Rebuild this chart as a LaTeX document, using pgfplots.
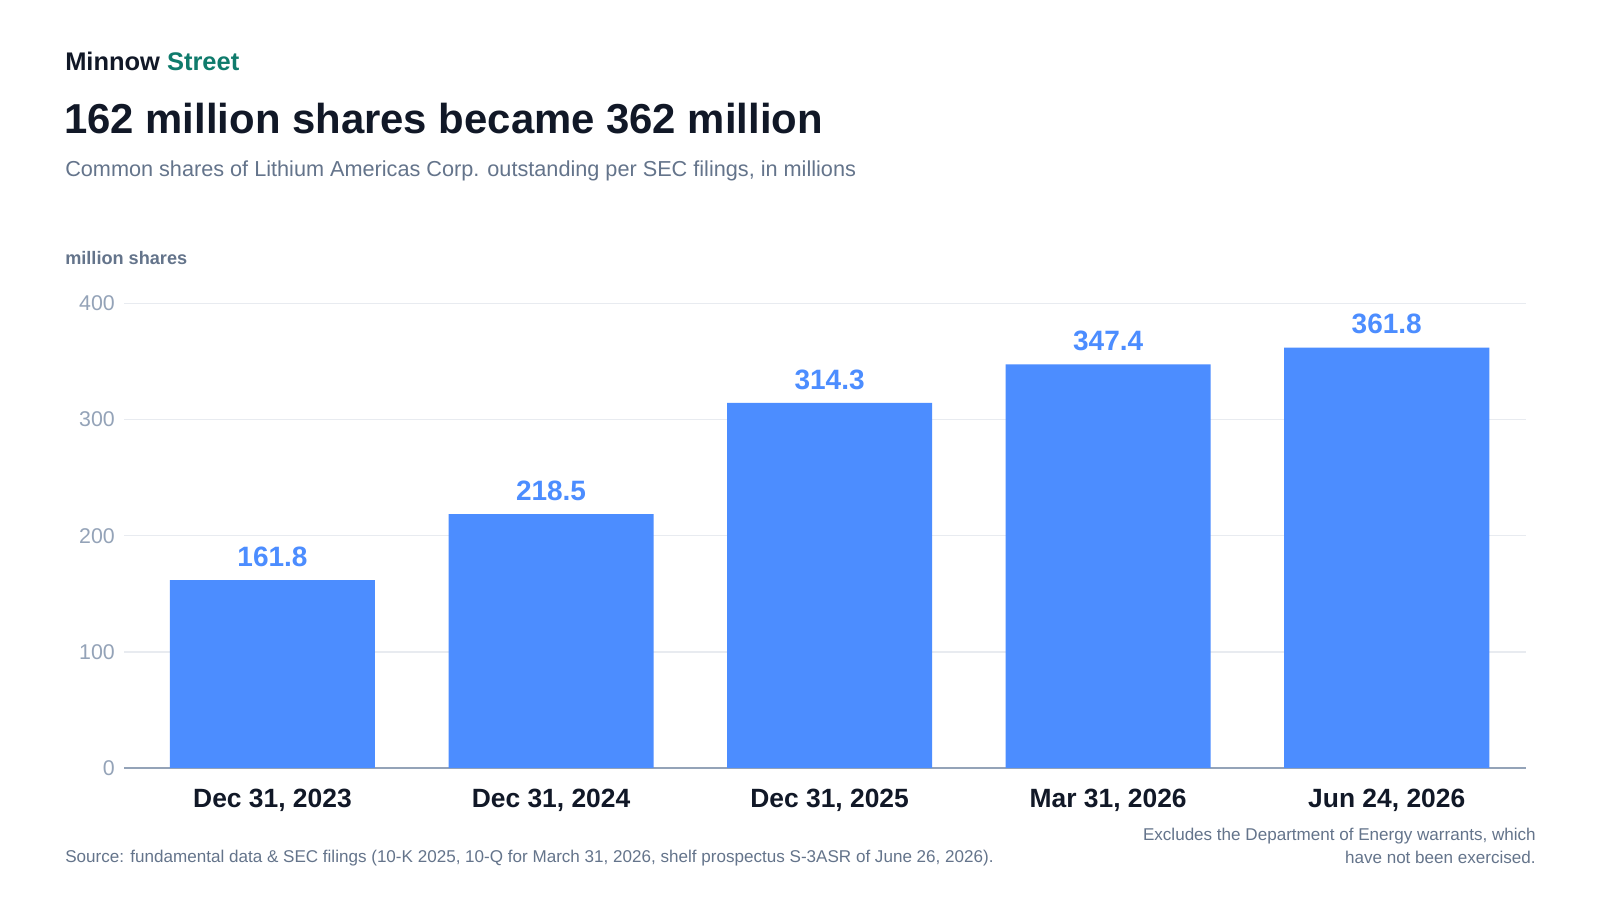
\documentclass[border=0pt]{standalone}
\usepackage{pgfplots}
\pgfplotsset{compat=1.18}
\usepackage{fontspec}
\setmainfont{Liberation Sans}
\definecolor{ink}{HTML}{111827}
\definecolor{brandgreen}{HTML}{0F7B6C}
\definecolor{subgray}{HTML}{64748B}
\definecolor{tickgray}{HTML}{94A3B8}
\definecolor{gridgray}{HTML}{E8EBF0}
\definecolor{axisgray}{HTML}{94A3B8}
\definecolor{barblue}{HTML}{4C8DFF}
\begin{document}
\begin{tikzpicture}[x=0.75pt,y=0.75pt]
\path[use as bounding box, fill=white] (0,0) rectangle (1600,900);
\node[anchor=base west, inner sep=0pt, text=ink, font=\fontsize{19.1}{21}\selectfont\bfseries] at (65,829.3) {Minnow \textcolor{brandgreen}{Street}};
\node[anchor=base west, inner sep=0pt, text=ink, font=\fontsize{31.4}{36}\selectfont\bfseries] at (64,766.7) {162 million shares became 362 million};
\node[anchor=base west, inner sep=0pt, text=subgray, font=\fontsize{16.25}{18}\selectfont] at (65,723.3) {Common shares of Lithium Americas Corp. outstanding per SEC filings, in millions};
\node[anchor=base west, inner sep=0pt, text=subgray, font=\fontsize{13.6}{15}\selectfont\bfseries] at (65,635.7) {million shares};
\begin{axis}[
  at={(93pt,99pt)}, anchor=south west, scale only axis,
  width=1051.5pt, height=348.5pt,
  ybar, bar width=0.736, bar shift=0pt,
  xmin=-0.533, xmax=4.5, ymin=0, ymax=400,
  enlargelimits=false, clip=false,
  xtick={0,1,2,3,4},
  xticklabels={{Dec 31, 2023},{Dec 31, 2024},{Dec 31, 2025},{Mar 31, 2026},{Jun 24, 2026}},
  ytick={0,100,200,300,400},
  axis x line*=bottom, axis y line*=left,
  y axis line style={draw=none},
  x axis line style={-, draw=axisgray, line width=1.1pt},
  ymajorgrids, grid style={gridgray, line width=1.1pt},
  major tick length=0pt, tick style={draw=none},
  /pgf/number format/assume math mode=true,
  yticklabel style={font=\fontsize{16}{18}\selectfont, text=tickgray, anchor=east, inner sep=0pt, xshift=-6.75pt},
  xticklabel style={font=\fontsize{19.8}{22}\selectfont\bfseries, text=ink, anchor=base, inner sep=0pt, yshift=-29.8pt},
  point meta=y,
  nodes near coords={\pgfmathprintnumber[fixed,fixed zerofill,precision=1]{\pgfplotspointmeta}},
  nodes near coords style={font=\fontsize{21}{24}\selectfont\bfseries, text=barblue, anchor=base, inner sep=0pt, yshift=10.3pt},
]
\addplot[fill=barblue, draw=none] coordinates {(0,161.8) (1,218.5) (2,314.3) (3,347.4) (4,361.8)};
\end{axis}
\node[anchor=base west, inner sep=0pt, text=subgray, font=\fontsize{12.8}{15}\selectfont] at (65,37.3) {Source: fundamental data \& SEC filings (10-K 2025, 10-Q for March 31, 2026, shelf prospectus S-3ASR of June 26, 2026).};
\node[anchor=base east, inner sep=0pt, text=subgray, font=\fontsize{12.8}{15}\selectfont] at (1536,60) {Excludes the Department of Energy warrants, which};
\node[anchor=base east, inner sep=0pt, text=subgray, font=\fontsize{12.8}{15}\selectfont] at (1536,36.7) {have not been exercised.};
\end{tikzpicture}
\end{document}
